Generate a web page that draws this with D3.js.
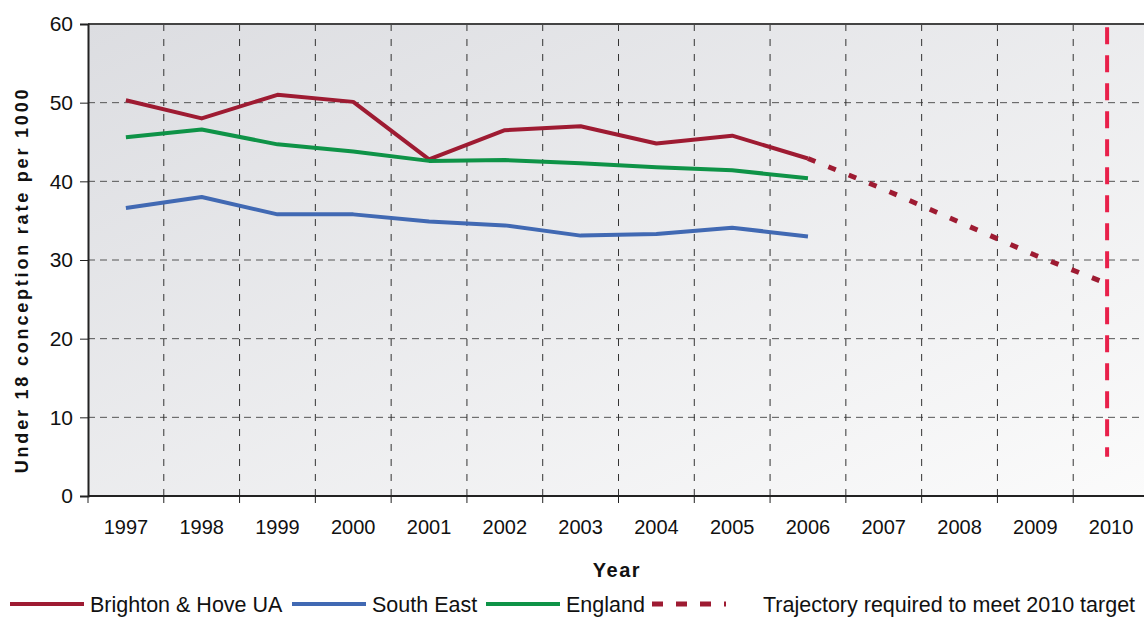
<!DOCTYPE html>
<html>
<head>
<meta charset="utf-8">
<script src="https://cdn.jsdelivr.net/npm/d3@7"></script>
<style>
  body { margin: 0; background: #fff; }
  svg { display: block; font-family: "Liberation Sans", Arial, sans-serif; }
</style>
</head>
<body>
<div id="chart"></div>
<script>
// chart data
var years = ["1997", "1998", "1999", "2000", "2001", "2002", "2003", "2004", "2005", "2006", "2007", "2008", "2009", "2010"];
var brighton = [50.3, 48.0, 51.0, 50.1, 42.8, 46.5, 47.0, 44.8, 45.8, 42.9];
var southEast = [36.6, 38.0, 35.8, 35.8, 34.9, 34.4, 33.1, 33.3, 34.1, 33.0];
var england = [45.6, 46.6, 44.7, 43.8, 42.6, 42.7, 42.3, 41.8, 41.4, 40.4];
var trajYears = ["2006", "2007", "2008", "2009", "2010"];
var trajectory = [42.9, 39.0, 34.8, 30.6, 26.8];
var targetLine = [5, 59.6]; // vertical marker at 2010
var yTicks = [0, 10, 20, 30, 40, 50, 60];

var W = 1144, H = 617;
var margin = { top: 24, right: -5, bottom: 121, left: 88 };

var svg = d3.select('#chart').append('svg')
    .attr('width', W)
    .attr('height', H);

var width = W - margin.left - margin.right;
var height = H - margin.top - margin.bottom;

var xScale = d3.scaleBand()
    .domain(years)
    .range([margin.left, margin.left + width])
    .padding(0);

var yScale = d3.scaleLinear()
    .domain([0, 60])
    .range([margin.top + height, margin.top]);

function cx(y) { return xScale(y) + xScale.bandwidth() / 2; }

// background gradient
var defs = svg.append('defs');
var grad = defs.append('linearGradient')
    .attr('id', 'bg')
    .attr('x1', '0%').attr('y1', '0%')
    .attr('x2', '100%').attr('y2', '100%');
grad.append('stop').attr('offset', '0%').attr('stop-color', '#dcdde1');
grad.append('stop').attr('offset', '100%').attr('stop-color', '#fbfbfb');

svg.append('rect')
    .attr('x', margin.left)
    .attr('y', margin.top)
    .attr('width', width)
    .attr('height', height)
    .attr('fill', 'url(#bg)');

// horizontal grid
svg.selectAll('.hgrid')
    .data(yTicks.filter(function(d) { return d > 0 && d < 60; }))
    .enter().append('line')
    .attr('class', 'hgrid')
    .attr('x1', margin.left)
    .attr('x2', margin.left + width)
    .attr('y1', function(d) { return yScale(d); })
    .attr('y2', function(d) { return yScale(d); })
    .attr('stroke', '#555')
    .attr('stroke-width', 1)
    .attr('stroke-dasharray', '7,5');

// vertical grid at band boundaries
svg.selectAll('.vgrid')
    .data(years.slice(1))
    .enter().append('line')
    .attr('class', 'vgrid')
    .attr('x1', function(d) { return xScale(d); })
    .attr('x2', function(d) { return xScale(d); })
    .attr('y1', margin.top)
    .attr('y2', margin.top + height)
    .attr('stroke', '#333')
    .attr('stroke-width', 1)
    .attr('stroke-dasharray', '7,8');

// top border
svg.append('line')
    .attr('x1', margin.left).attr('x2', W)
    .attr('y1', margin.top).attr('y2', margin.top)
    .attr('stroke', '#444').attr('stroke-width', 2);

// axes
var yAxis = d3.axisLeft(yScale).tickValues(yTicks).tickSize(8).tickPadding(7);
var gy = svg.append('g')
    .attr('transform', 'translate(' + margin.left + ',0)')
    .call(yAxis);
gy.select('.domain').attr('stroke', '#222').attr('stroke-width', 2);
gy.selectAll('.tick line').attr('stroke', '#222');
gy.selectAll('.tick text')
    .attr('font-size', '21px')
    .attr('fill', '#111')
    .attr('font-family', '"Liberation Sans", Arial, sans-serif');

// x axis: ticks on boundaries, labels at centres
var gx = svg.append('g')
    .attr('transform', 'translate(0,' + (margin.top + height) + ')');
gx.append('line')
    .attr('x1', margin.left).attr('x2', W)
    .attr('stroke', '#222').attr('stroke-width', 2);
gx.selectAll('.xtick')
    .data(years)
    .enter().append('line')
    .attr('class', 'xtick')
    .attr('x1', function(d) { return xScale(d); })
    .attr('x2', function(d) { return xScale(d); })
    .attr('y1', 0).attr('y2', 7)
    .attr('stroke', '#222');
gx.selectAll('.xlabel')
    .data(years)
    .enter().append('text')
    .attr('class', 'xlabel')
    .attr('x', function(d) { return cx(d); })
    .attr('y', 38)
    .attr('text-anchor', 'middle')
    .attr('font-size', '20px')
    .attr('fill', '#111')
    .text(function(d) { return d; });

// axis titles
svg.append('text')
    .attr('x', 617)
    .attr('y', 577)
    .attr('text-anchor', 'middle')
    .attr('font-size', '20px')
    .attr('font-weight', 'bold')
    .attr('letter-spacing', '1.5px')
    .attr('fill', '#111')
    .text('Year');

svg.append('text')
    .attr('transform', 'translate(28,' + (margin.top + height / 2 + 20) + ') rotate(-90)')
    .attr('text-anchor', 'middle')
    .attr('font-size', '18px')
    .attr('font-weight', 'bold')
    .attr('letter-spacing', '2.8px')
    .attr('fill', '#111')
    .text('Under 18 conception rate per 1000');

// series lines
var line = d3.line()
    .x(function(d) { return cx(d.year); })
    .y(function(d) { return yScale(d.value); });

function pairs(ys, vs) {
    return vs.map(function(v, i) { return { year: ys[i], value: v }; });
}

var series = [
    { name: 'Brighton & Hove UA', values: brighton, color: '#9e1b32' },
    { name: 'South East', values: southEast, color: '#4169b3' },
    { name: 'England', values: england, color: '#0e9347' }
];

series.forEach(function(s) {
    svg.append('path')
        .datum(pairs(years, s.values))
        .attr('d', line)
        .attr('fill', 'none')
        .attr('stroke', s.color)
        .attr('stroke-width', 4)
        .attr('stroke-linejoin', 'round');
});

// trajectory
svg.append('path')
    .datum(pairs(trajYears, trajectory))
    .attr('d', line)
    .attr('fill', 'none')
    .attr('stroke', '#9e1b32')
    .attr('stroke-width', 5)
    .attr('stroke-dasharray', '8,14');

// 2010 target marker
svg.append('line')
    .attr('x1', cx('2010') - 4).attr('x2', cx('2010') - 4)
    .attr('y1', yScale(targetLine[1]))
    .attr('y2', yScale(targetLine[0]))
    .attr('stroke', '#e8204a')
    .attr('stroke-width', 4)
    .attr('stroke-dasharray', '17,11');

// legend
var legendItems = [
    { name: 'Brighton & Hove UA', color: '#9e1b32', x: 10, dash: null },
    { name: 'South East', color: '#4169b3', x: 292, dash: null },
    { name: 'England', color: '#0e9347', x: 486, dash: null },
    { name: 'Trajectory required to meet 2010 target', color: '#9e1b32', x: 652, dash: '11,13', textX: 763 }
];
var legend = svg.selectAll('.legend')
    .data(legendItems)
    .enter().append('g')
    .attr('class', 'legend')
    .attr('transform', function(d) { return 'translate(' + d.x + ',604)'; });

legend.append('line')
    .attr('x1', 0).attr('x2', 74)
    .attr('stroke', function(d) { return d.color; })
    .attr('stroke-width', function(d) { return d.dash ? 5 : 4; })
    .attr('stroke-dasharray', function(d) { return d.dash; });

legend.append('text')
    .attr('x', function(d) { return d.textX ? d.textX - d.x : 80; })
    .attr('y', 7.5)
    .attr('font-size', '21.5px')
    .attr('fill', '#111')
    .text(function(d) { return d.name; });
</script>
</body>
</html>
